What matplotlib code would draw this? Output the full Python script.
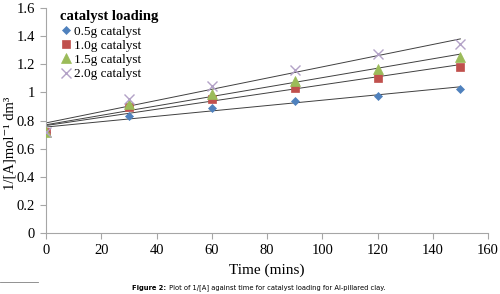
import matplotlib as mpl
import matplotlib.pyplot as plt
import numpy as np

mpl.rc('font', family='Liberation Serif')

# data
t = [0, 30, 60, 90, 120, 150]
c05 = [0.72, 0.834, 0.887, 0.939, 0.977, 1.024]
c10 = [0.72, 0.894, 0.951, 1.034, 1.105, 1.183]
c15 = [0.72, 0.915, 0.99, 1.081, 1.166, 1.254]
c20 = [0.72, 0.953, 1.045, 1.159, 1.271, 1.342]
labels = ['0.5g catalyst', '1.0g catalyst', '1.5g catalyst', '2.0g catalyst']
yticks = [0, 0.2, 0.4, 0.6, 0.8, 1, 1.2, 1.4, 1.6]
xticks = [0, 20, 40, 60, 80, 100, 120, 140, 160]

fig = plt.figure(figsize=(5, 2.94), dpi=100)
ax = fig.add_axes([0.092, 0.207, 0.884, 0.766])

styles = [('D', '#4F81BD', 4.5), ('s', '#C0504D', 5.5), ('^', '#9BBB59', 6.5), ('x', '#B3A2C7', 6.5)]
tt = np.array(t)
for y, lab, (m, c, ms) in zip([c05, c10, c15, c20], labels, styles):
    ax.plot(t, y, ls='None', marker=m, color=c, ms=ms, mew=1.0 if m == 'x' else 0.5, label=lab, zorder=3)
    k, b = np.polyfit(tt, np.array(y), 1)
    ax.plot([0, 150], [b, b + k*150], c='#404040', lw=0.7, zorder=2)

ax.set_xlim(0, 160)
ax.set_ylim(0, 1.6)
ax.set_xticks(xticks)
ax.set_yticks(yticks)
ax.set_yticklabels(['{:g}'.format(v) for v in yticks])
for s in ['top', 'right']:
    ax.spines[s].set_visible(False)
for s in ['left', 'bottom']:
    ax.spines[s].set_color('#A6A6A6')
ax.tick_params(direction='out', color='#A6A6A6', labelsize=10.5, length=4, pad=4)
ax.set_xlabel('Time (mins)', fontsize=11)
ax.xaxis.set_label_coords(0.5, -0.135)
ax.set_ylabel('1/[A]mol\u207b\u00b9 dm\u00b3', fontsize=10.5,
              family=['Liberation Serif', 'DejaVu Serif'])
ax.yaxis.set_label_coords(-0.066, 0.4)

leg = ax.legend(loc='upper left', bbox_to_anchor=(0.01, 1.03), frameon=False, fontsize=9.5,
                title='catalyst loading', title_fontproperties={'weight': 'bold', 'size': 10.5},
                handletextpad=0.1, handlelength=1.0, labelspacing=0.15, borderpad=0.2)
leg._legend_box.align = 'left'

cap = fig.text(0.265, 0.022, 'Figure 2:', ha='left', va='center', fontsize=4.9,
               family='DejaVu Sans', weight='bold')
ax.annotate(' Plot of 1/[A] against time for catalyst loading for Al-pillared clay.',
            xy=(1, 0.5), xycoords=cap, ha='left', va='center', fontsize=4.9,
            family='DejaVu Sans', annotation_clip=False)
fig.add_artist(plt.Line2D([0, 0.076], [0.041, 0.041], color='#808080', lw=0.6))

plt.savefig('out.png', dpi=100)
